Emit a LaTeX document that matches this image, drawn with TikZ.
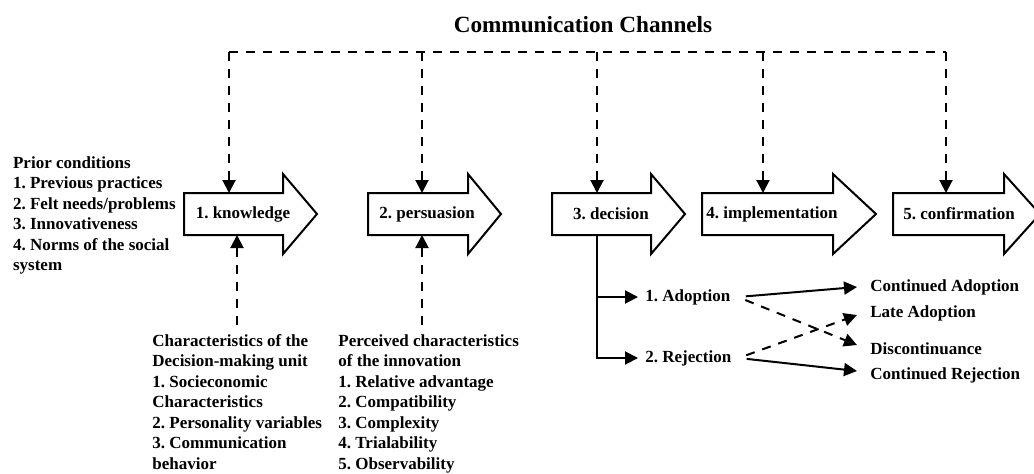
\documentclass[tikz,border=0pt]{standalone}
\usepackage{fontspec}
\setmainfont{Liberation Serif}
\usetikzlibrary{arrows.meta}
\frenchspacing
\begin{document}
\frenchspacing
\begin{tikzpicture}[x=0.5pt,y=-0.5pt,
  txt/.style={font=\fontsize{8.5pt}{10.25pt}\selectfont\bfseries, inner sep=0pt, align=left},
  outline/.style={draw, line width=1pt, line join=miter, fill=white},
  dsh/.style={line width=1pt, dash pattern=on 4.5pt off 4pt},
  sld/.style={line width=1pt},
  tip/.style={-{Triangle[length=6.5pt,width=6.5pt]}},
]
\useasboundingbox (0,0) rectangle (1034,473);
\clip (0,0) rectangle (1034,473);

% title
\node[font=\fontsize{11.6pt}{14pt}\selectfont\bfseries] (title) at (583,25) {Communication Channels};

% stage arrows
\foreach \i/\L/\B/\T/\tx/\tp/\bp/\lab in {
  1/184/283/317/243/229/237/1. knowledge,
  2/368/468/501/427/422/422/2. persuasion,
  3/552/651/685/611/597/597/3. decision,
  4/702/833/876/772/763/763/4. implementation,
  5/893/1004/1040/959/946/946/5. confirmation}
{
  \draw[outline] (\L,193) -- (\B,193) -- (\B,174) -- (\T,214) -- (\B,254) -- (\B,235) -- (\L,235) -- cycle;
  \node[txt] (l\i) at (\tx,214) {\lab};
  \coordinate (top\i) at (\tp,193);
  \coordinate (bot\i) at (\bp,235);
  \coordinate (c\i) at (\tp,52);
}

% communication channels
\draw[dsh] (c1) -- (c5);
\foreach \i in {1,...,5} { \draw[dsh,tip] (c\i) -- (top\i); }

% prior conditions
\node[txt, anchor=north west] (prior) at (12.7,156) {Prior conditions\\1. Previous practices\\2. Felt needs/problems\\3. Innovativeness\\4. Norms of the social\\system};

% characteristics
\node[txt, anchor=north west] (dmu) at (152,334) {Characteristics of the\\Decision-making unit\\1. Socieconomic\\Characteristics\\2. Personality variables\\3. Communication\\behavior};
\node[txt, anchor=north west] (pci) at (338,334) {Perceived characteristics\\of the innovation\\1. Relative advantage\\2. Compatibility\\3. Complexity\\4. Trialability\\5. Observability};

\draw[dsh,tip,shorten <=4.5pt] (bot1 |- dmu.north) -- (bot1);
\draw[dsh,tip,shorten <=4.5pt] (bot2 |- pci.north) -- (bot2);

% decision outcomes
\node[txt, anchor=west, inner xsep=3.5pt] (adop) at (638,297) {1. Adoption};
\node[txt, anchor=west, inner xsep=3.5pt] (rej) at (638,358) {2. Rejection};
\draw[sld,tip] (bot3) |- (adop.west);
\draw[sld,tip] (bot3) |- (rej.west);

\node[txt, anchor=west, inner xsep=6.5pt] (ca) at (857,287) {Continued Adoption};
\node[txt, anchor=west, inner xsep=6.5pt] (la) at (857,313) {Late Adoption};
\node[txt, anchor=west, inner xsep=6.5pt] (dis) at (857,349) {Discontinuance};
\node[txt, anchor=west, inner xsep=6.5pt] (cr) at (857,375) {Continued Rejection};

\draw[sld,tip,shorten <=4pt] (adop.east) -- (ca.west);
\draw[dsh,tip,shorten <=4pt] (adop.east) -- ([yshift=2pt]dis.west);
\draw[dsh,tip,shorten <=4pt] (rej.east) -- ([yshift=-1pt]la.west);
\draw[sld,tip,shorten <=4pt] (rej.east) -- ([yshift=2pt]cr.west);
\end{tikzpicture}
\end{document}
